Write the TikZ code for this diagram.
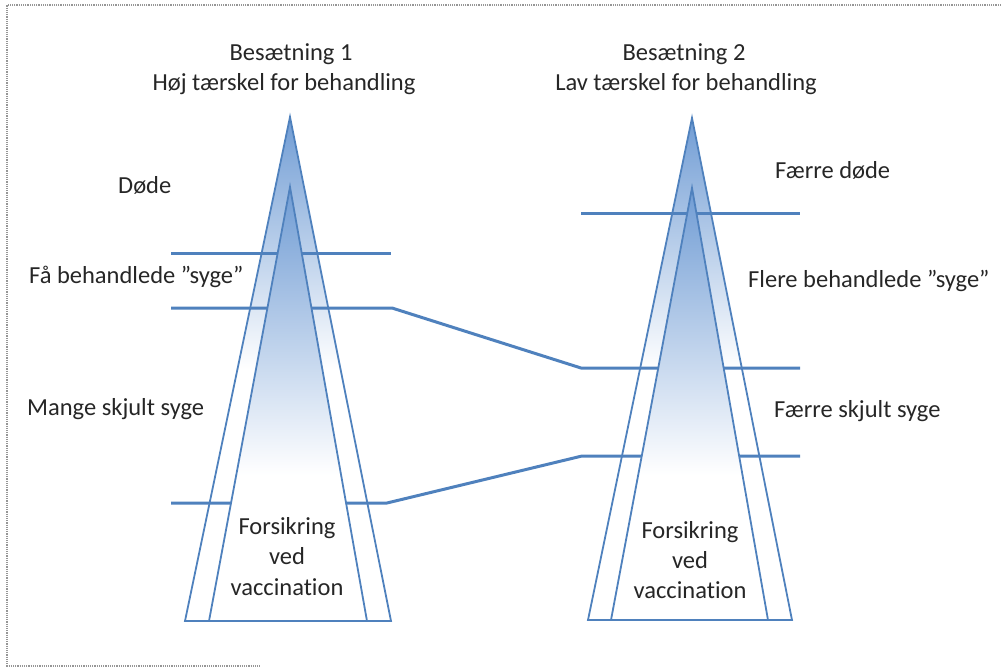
\documentclass[tikz,border=0pt]{standalone}
\usepackage{fontspec}
\setmainfont[Ligatures=NoCommon]{Carlito}
\definecolor{lineblue}{RGB}{79,129,189}
\definecolor{shadeblue}{RGB}{112,156,212}
\definecolor{framegray}{RGB}{150,150,150}
\begin{document}
\begin{tikzpicture}[x=1pt,y=-1pt,
  lbl/.style={inner sep=0pt,font=\fontsize{24.5}{30}\selectfont,text=black!85},
  hline/.style={draw=lineblue,line width=3pt},
  tri/.style={draw=lineblue,line width=1.8pt,line join=miter},
  frame/.style={draw=framegray,line width=1.2pt,densely dotted}]
\useasboundingbox (0,0) rectangle (1001,669);
% frame
\draw[frame] (1001,5) -- (7,5) -- (7,666) -- (260,666);

% ---------- coordinates ----------
% triangle 1
\coordinate (o1t) at (290,117); \coordinate (o1l) at (185,621); \coordinate (o1r) at (391,621);
\coordinate (i1t) at (290,187); \coordinate (i1l) at (209,621); \coordinate (i1r) at (367,621);
% triangle 2
\coordinate (o2t) at (692,118); \coordinate (o2l) at (588,620); \coordinate (o2r) at (792,620);
\coordinate (i2t) at (692,188); \coordinate (i2l) at (611,620); \coordinate (i2r) at (768,620);
% lines
\coordinate (a1) at (171,253); \coordinate (a2) at (391,253);
\coordinate (b1) at (171,308); \coordinate (b2) at (392,308); \coordinate (b3) at (581,368); \coordinate (b4) at (800,368);
\coordinate (c1) at (171,503); \coordinate (c2) at (387,503); \coordinate (c3) at (582,456); \coordinate (c4) at (800,456);
\coordinate (d1) at (581,213); \coordinate (d2) at (800,213);

% ---------- outer shading ----------
\begin{scope}
  \clip (o1t) -- (o1l) -- (o1r) -- cycle;
  \shade[top color=shadeblue,middle color=shadeblue!35,bottom color=white] (180,117) rectangle (400,370);
\end{scope}
\begin{scope}
  \clip (o2t) -- (o2l) -- (o2r) -- cycle;
  \shade[top color=shadeblue,middle color=shadeblue!35,bottom color=white] (580,118) rectangle (800,370);
\end{scope}

% ---------- horizontal lines ----------
\draw[hline] (a1) -- (a2);
\draw[hline,line join=round] (b1) -- (b2) -- (b3) -- (b4);
\draw[hline,line join=round] (c1) -- (c2) -- (c3) -- (c4);
\draw[hline] (d1) -- (d2);

% ---------- inner triangles ----------
\fill[white] (i1t) -- (i1l) -- (i1r) -- cycle;
\fill[white] (i2t) -- (i2l) -- (i2r) -- cycle;
\begin{scope}
  \clip (i1t) -- (i1l) -- (i1r) -- cycle;
  \shade[top color=shadeblue,middle color=shadeblue!60,bottom color=white] (200,187) rectangle (380,475);
\end{scope}
\begin{scope}
  \clip (i2t) -- (i2l) -- (i2r) -- cycle;
  \shade[top color=shadeblue,middle color=shadeblue!60,bottom color=white] (600,188) rectangle (780,475);
\end{scope}

% ---------- outlines ----------
\draw[tri] (o1t) -- (o1l) -- (o1r) -- cycle;
\draw[tri] (i1t) -- (i1l) -- (i1r) -- cycle;
\draw[tri] (o2t) -- (o2l) -- (o2r) -- cycle;
\draw[tri] (i2t) -- (i2l) -- (i2r) -- cycle;

% ---------- texts ----------
\node[lbl,anchor=base] (t1a) at (291,60) {Besætning 1};
\node[lbl,anchor=base] (t1b) at (284,90) {Høj tærskel for behandling};
\node[lbl,anchor=base] (t2a) at (684,60) {Besætning 2};
\node[lbl,anchor=base] (t2b) at (686,90) {Lav tærskel for behandling};

\node[lbl,anchor=base west] (l1) at (118,193) {Døde};
\node[lbl,anchor=base west] (l2) at (29,283) {Få behandlede ”syge”};
\node[lbl,anchor=base west] (l3) at (27,415) {Mange skjult syge};

\node[lbl,anchor=base west] (r1) at (775,178) {Færre døde};
\node[lbl,anchor=base west] (r2) at (748,287) {Flere behandlede ”syge”};
\node[lbl,anchor=base west] (r3) at (774,417) {Færre skjult syge};

\node[lbl,anchor=base] (f1a) at (287,534) {Forsikring};
\node[lbl,anchor=base] (f1b) at (287,564.5) {ved};
\node[lbl,anchor=base] (f1c) at (287,595) {vaccination};
\node[lbl,anchor=base] (f2a) at (690,538) {Forsikring};
\node[lbl,anchor=base] (f2b) at (690,568) {ved};
\node[lbl,anchor=base] (f2c) at (690,598) {vaccination};
\end{tikzpicture}
\end{document}
